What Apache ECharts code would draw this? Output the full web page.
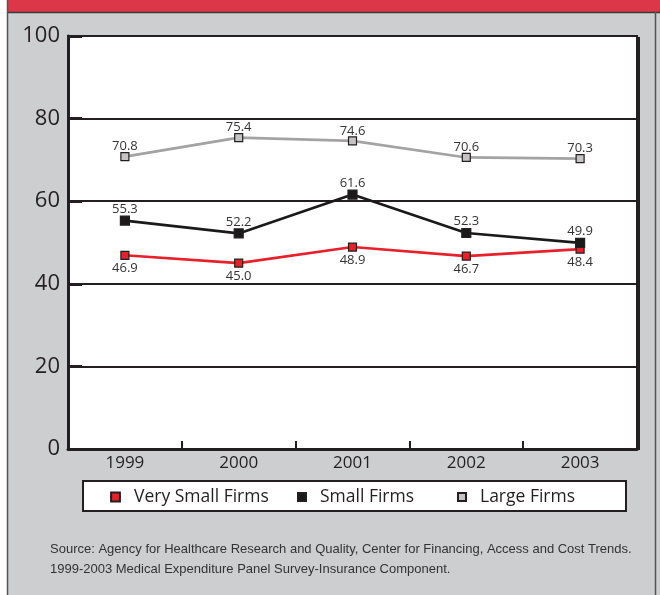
<!DOCTYPE html>
<html>
<head>
<meta charset="utf-8">
<script src="https://cdn.jsdelivr.net/npm/echarts@6/dist/echarts.min.js"></script>
<style>
  html, body { margin: 0; padding: 0; background: #ffffff; }
  #chart { width: 660px; height: 595px; }
</style>
</head>
<body>
<div id="chart"></div>
<script>
// Years on the category axis
const years = ['1999', '2000', '2001', '2002', '2003'];
// Percent values per firm size
const verySmallFirms = [46.9, 45.0, 48.9, 46.7, 48.4];
const smallFirms = [55.3, 52.2, 61.6, 52.3, 49.9];
const largeFirms = [70.8, 75.4, 74.6, 70.6, 70.3];
// Value axis ticks
const yTicks = [0, 20, 40, 60, 80, 100];

const seriesNames = ['Very Small Firms', 'Small Firms', 'Large Firms'];
const sourceLines = [
  'Source: Agency for Healthcare Research and Quality, Center for Financing, Access and Cost Trends.',
  '1999-2003 Medical Expenditure Panel Survey-Insurance Component.'
];

const FONT = '"Open Sans", "DejaVu Sans", sans-serif';
const INK = '#231f20';

const chart = echarts.init(document.getElementById('chart'), null, { renderer: 'canvas' });

function lineSeries(name, data, color, markerFill, markerSize, labelPos, labelShift, z) {
  return {
    name: name,
    type: 'line',
    data: data,
    z: z,
    symbol: 'rect',
    symbolSize: markerSize,
    showAllSymbol: true,
    lineStyle: { color: color, width: 2.6 },
    itemStyle: { color: markerFill, borderColor: INK, borderWidth: 1.2 },
    label: {
      show: true,
      position: labelPos,
      distance: 2,
      offset: [0, labelShift],
      formatter: p => p.value.toFixed(1),
      fontFamily: FONT,
      fontSize: 13,
      color: '#333333'
    },
    emphasis: { disabled: true },
    animation: false
  };
}

function legendAt(name, left, size) {
  return {
    data: [name],
    left: left,
    top: 488,
    itemWidth: size,
    itemHeight: size,
    itemGap: 0,
    padding: 0,
    textStyle: { fontFamily: FONT, fontSize: 17.5, color: INK, padding: [0, 0, 0, 8] },
    selectedMode: false
  };
}

chart.setOption({
  animation: false,
  backgroundColor: '#ffffff',
  graphic: [
    // panel background and frame
    { type: 'rect', z: -10, shape: { x: 7, y: 0, width: 653, height: 595 }, style: { fill: '#cdced0' } },
    { type: 'rect', z: -9, shape: { x: 7, y: 0, width: 653, height: 12 }, style: { fill: '#dc3649' } },
    { type: 'line', z: -8, shape: { x1: 7, y1: 12.5, x2: 660, y2: 12.5 }, style: { stroke: '#3a3a3a', lineWidth: 1.5 } },
    { type: 'line', z: -8, shape: { x1: 7.5, y1: 0, x2: 7.5, y2: 595 }, style: { stroke: '#555555', lineWidth: 1.5 } },
    { type: 'line', z: -8, shape: { x1: 655.5, y1: 12, x2: 655.5, y2: 595 }, style: { stroke: '#555555', lineWidth: 1.5 } },
    // right edge shadow of the plot frame
    { type: 'line', z: 5, shape: { x1: 638.5, y1: 37, x2: 638.5, y2: 450 }, style: { stroke: INK, lineWidth: 3 } },
    // legend frame
    { type: 'rect', z: -5, shape: { x: 83, y: 481, width: 543, height: 30 }, style: { fill: '#ffffff', stroke: INK, lineWidth: 2 } },
    // source note
    {
      type: 'text', left: 50, top: 539,
      style: {
        text: sourceLines.join('\n'),
        fontFamily: '"Liberation Sans", Arial, sans-serif',
        fontSize: 13,
        lineHeight: 20,
        fill: '#333333'
      }
    }
  ],
  grid: {
    left: 68, top: 36, right: 23, bottom: 146,
    show: true,
    backgroundColor: '#ffffff',
    borderColor: INK,
    borderWidth: 2,
    containLabel: false
  },
  legend: [
    legendAt(seriesNames[0], 109, 11),
    legendAt(seriesNames[1], 296, 10),
    legendAt(seriesNames[2], 456, 10)
  ],
  xAxis: {
    type: 'category',
    data: years,
    boundaryGap: true,
    axisLine: { show: true, lineStyle: { color: INK, width: 3 } },
    axisTick: { show: true, inside: true, length: 8, lineStyle: { color: INK, width: 2 } },
    axisLabel: { fontFamily: FONT, fontSize: 17, color: INK, margin: 6 },
    splitLine: { show: false }
  },
  yAxis: {
    type: 'value',
    min: yTicks[0],
    max: yTicks[yTicks.length - 1],
    interval: yTicks[1] - yTicks[0],
    axisLine: { show: true, lineStyle: { color: INK, width: 3 } },
    axisTick: { show: true, inside: true, length: 14, lineStyle: { color: INK, width: 3 } },
    axisLabel: { fontFamily: FONT, fontSize: 22, color: INK, margin: 8 },
    splitLine: { show: true, lineStyle: { color: INK, width: 2 } }
  },
  series: [
    lineSeries(seriesNames[0], verySmallFirms, '#e8202a', '#e8202a', 8, 'bottom', 0, 3),
    lineSeries(seriesNames[1], smallFirms, '#1a1a1a', '#1a1a1a', 9, 'top', 2, 4),
    lineSeries(seriesNames[2], largeFirms, '#a3a3a3', '#c4c4c4', 8, 'top', 3, 2)
  ]
});
</script>
</body>
</html>
